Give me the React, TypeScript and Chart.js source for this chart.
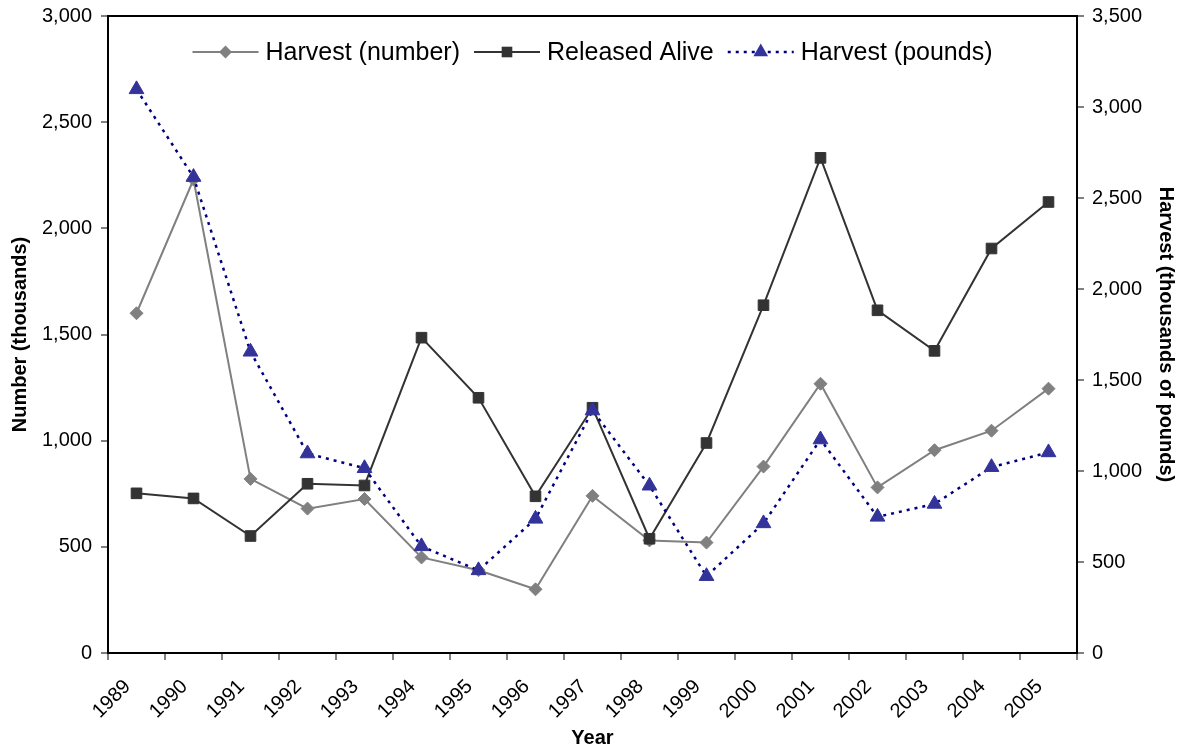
import React, { useEffect, useRef } from 'react';
import { Chart, registerables } from 'chart.js';

Chart.register(...registerables);

const FONT = "'Liberation Sans', Arial, Helvetica, sans-serif";

const years = ['1989', '1990', '1991', '1992', '1993', '1994', '1995', '1996', '1997', '1998', '1999', '2000', '2001', '2002', '2003', '2004', '2005'];
const harvestNumber = [1600, 2230, 820, 680, 725, 450, 390, 300, 740, 530, 520, 878, 1268, 780, 955, 1047, 1245];
const releasedAlive = [752, 728, 551, 797, 789, 1485, 1202, 738, 1155, 538, 989, 1638, 2332, 1614, 1423, 1905, 2124];
const harvestPounds = [3097, 2615, 1655, 1096, 1015, 586, 454, 737, 1332, 919, 422, 712, 1173, 748, 819, 1021, 1102];

const leftAxisMax = 3000;
const rightAxisMax = 3500;
const tickStep = 500;

function drawMarker(ctx: CanvasRenderingContext2D, style: string, x: number, y: number, r: number, fill: string) {
  ctx.save();
  ctx.fillStyle = fill;
  ctx.beginPath();
  if (style === 'rect') {
    const s = Math.SQRT1_2 * r;
    ctx.rect(x - s, y - s, 2 * s, 2 * s);
  } else if (style === 'rectRot') {
    ctx.moveTo(x, y - r);
    ctx.lineTo(x + r, y);
    ctx.lineTo(x, y + r);
    ctx.lineTo(x - r, y);
    ctx.closePath();
  } else if (style === 'triangle') {
    const a = (2 * Math.PI) / 3;
    ctx.moveTo(x, y - r);
    ctx.lineTo(x + Math.sin(a) * r, y - Math.cos(a) * r);
    ctx.lineTo(x + Math.sin(2 * a) * r, y - Math.cos(2 * a) * r);
    ctx.closePath();
  }
  ctx.fill();
  ctx.restore();
}

const insideLegend = {
  id: 'insideLegend',
  afterDraw(chart: any) {
    const { ctx, chartArea } = chart;
    ctx.save();
    ctx.font = `25px ${FONT}`;
    const lineLen = 66;
    const gapText = 7;
    const gapItem = 14;
    const items = chart.data.datasets.map((ds: any) => ({ ds, w: ctx.measureText(ds.label).width }));
    const total = items.reduce((s: number, it: any) => s + lineLen + gapText + it.w, 0) + gapItem * (items.length - 1);
    let x = (chartArea.left + chartArea.right) / 2 - total / 2;
    const y = chartArea.top + 36;
    items.forEach(({ ds, w }: any) => {
      ctx.strokeStyle = ds.borderColor;
      ctx.lineWidth = ds.borderWidth;
      ctx.setLineDash(ds.borderDash || []);
      ctx.beginPath();
      ctx.moveTo(x, y);
      ctx.lineTo(x + lineLen, y);
      ctx.stroke();
      ctx.setLineDash([]);
      drawMarker(ctx, ds.pointStyle, x + lineLen / 2, y, ds.pointRadius, ds.pointBackgroundColor);
      ctx.fillStyle = '#000';
      ctx.textBaseline = 'middle';
      ctx.textAlign = 'left';
      ctx.fillText(ds.label, x + lineLen + gapText, y + 1);
      x += lineLen + gapText + w + gapItem;
    });
    ctx.restore();
  },
};

const topBorder = {
  id: 'topBorder',
  beforeDatasetsDraw(chart: any) {
    const { ctx, chartArea } = chart;
    ctx.save();
    ctx.strokeStyle = '#000';
    ctx.lineWidth = 2;
    ctx.beginPath();
    ctx.moveTo(chartArea.left, chartArea.top);
    ctx.lineTo(chartArea.right, chartArea.top);
    ctx.stroke();
    ctx.restore();
  },
};

export default function App() {
  const ref = useRef<HTMLCanvasElement>(null);

  useEffect(() => {
    if (!ref.current) return;
    const tickFont = { size: 20, family: FONT };
    const titleFont = { size: 20, family: FONT, weight: 'bold' as const };
    const chart = new Chart(ref.current, {
      type: 'line',
      data: {
        labels: years,
        datasets: [
          {
            label: 'Harvest (number)',
            data: harvestNumber,
            yAxisID: 'y',
            borderColor: '#808080',
            backgroundColor: '#808080',
            borderWidth: 2,
            pointStyle: 'rectRot',
            pointRadius: 6.5,
            pointBackgroundColor: '#808080',
            pointBorderColor: '#808080',
            pointBorderWidth: 1,
            tension: 0,
            order: 3,
          },
          {
            label: 'Released Alive',
            data: releasedAlive,
            yAxisID: 'y',
            borderColor: '#333333',
            backgroundColor: '#333333',
            borderWidth: 2,
            pointStyle: 'rect',
            pointRadius: 7.5,
            pointBackgroundColor: '#333333',
            pointBorderColor: '#333333',
            pointBorderWidth: 1,
            tension: 0,
            order: 2,
          },
          {
            label: 'Harvest (pounds)',
            data: harvestPounds,
            yAxisID: 'y1',
            borderColor: '#000080',
            backgroundColor: '#333399',
            borderWidth: 2.5,
            borderDash: [3, 5],
            pointStyle: 'triangle',
            pointRadius: 8.5,
            pointBackgroundColor: '#333399',
            pointBorderColor: '#333399',
            pointBorderWidth: 1,
            tension: 0,
            order: 1,
          },
        ],
      },
      options: {
        responsive: false,
        animation: false,
        devicePixelRatio: 1,
        layout: { padding: { top: 16, left: 0, right: 0, bottom: 0 } },
        plugins: {
          legend: { display: false },
          tooltip: { enabled: false },
        },
        scales: {
          x: {
            type: 'category',
            offset: true,
            grid: { offset: true, drawOnChartArea: false, drawTicks: true, tickLength: 7, tickColor: '#808080', lineWidth: 2 },
            border: { color: '#000', width: 2 },
            ticks: { font: tickFont, color: '#000', minRotation: 45, maxRotation: 45, padding: 15, labelOffset: -9, autoSkip: false },
            title: { display: true, text: 'Year', font: titleFont, color: '#000', padding: { top: 4, bottom: 1 } },
            afterFit: (s: any) => { s.height = 98; s.paddingLeft = 0; s.paddingRight = 0; },
          },
          y: {
            type: 'linear',
            position: 'left',
            min: 0,
            max: leftAxisMax,
            grid: { drawOnChartArea: false, drawTicks: true, tickLength: 7, tickColor: '#808080', lineWidth: 2 },
            border: { color: '#000', width: 2 },
            ticks: { stepSize: tickStep, font: tickFont, color: '#000', padding: 9 },
            title: { display: true, text: 'Number (thousands)', font: titleFont, color: '#000', padding: { top: 8, bottom: 4 } },
            afterFit: (s: any) => { s.width = 108; s.paddingTop = 0; s.paddingBottom = 0; },
          },
          y1: {
            type: 'linear',
            position: 'right',
            min: 0,
            max: rightAxisMax,
            grid: { drawOnChartArea: false, drawTicks: true, tickLength: 7, tickColor: '#808080', lineWidth: 2 },
            border: { color: '#000', width: 2 },
            ticks: { stepSize: tickStep, font: tickFont, color: '#000', padding: 8 },
            title: { display: true, text: 'Harvest (thousands of pounds)', font: titleFont, color: '#000', padding: { top: 4, bottom: 4 } },
            afterFit: (s: any) => { s.width = 105; s.paddingTop = 0; s.paddingBottom = 0; },
          },
        },
      },
      plugins: [topBorder, insideLegend],
    } as any);
    return () => chart.destroy();
  }, []);

  return (
    <div style={{ position: 'fixed', left: 0, top: 0, width: 1182, height: 751, background: '#fff' }}>
      <canvas ref={ref} width={1182} height={751} style={{ display: 'block' }} />
    </div>
  );
}
